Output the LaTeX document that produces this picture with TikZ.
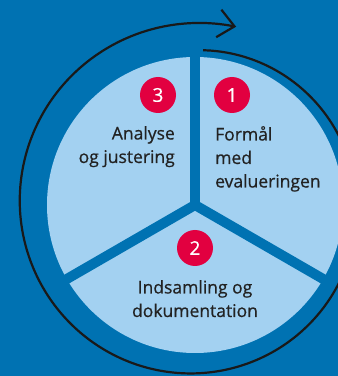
\documentclass[tikz,border=0pt]{standalone}
\usepackage{fontspec}
\setmainfont{Open Sans}
\newfontfamily\stepfont{Open Sans}[FakeBold=0.6]
\usetikzlibrary{arrows.meta,calc}

\definecolor{bgblue}{RGB}{0,114,178}
\definecolor{pieblue}{RGB}{163,209,241}
\definecolor{numred}{RGB}{226,0,64}
\definecolor{inkgrey}{RGB}{34,34,34}

\begin{document}
\begin{tikzpicture}[
    x=1pt, y=1pt,
    sector/.style={fill=pieblue},
    divider/.style={draw=bgblue, line width=10pt},
    numdot/.style={circle, fill=numred, text=white, minimum size=36pt, inner sep=0pt, font=\stepfont\fontsize{19}{19}\selectfont},
    steptext/.style={text=inkgrey, inner sep=0pt, font=\stepfont\fontsize{17.5}{23.5}\selectfont},
    cyclearrow/.style={draw=black!90, line width=2.2pt, -{Straight Barb[length=16pt,width=28pt]}}
]

% Background
\fill[bgblue] (0,0) rectangle (338,376);
\useasboundingbox (0,0) rectangle (338,376);
\clip (0,0) rectangle (338,376);

\coordinate (c) at (195,171);

% Pie with three sectors
\fill[sector] (c) circle (148pt);
\draw[divider] (c) -- ++(90:152pt);
\draw[divider] (c) -- ++(-30:152pt);
\draw[divider] (c) -- ++(210:152pt);

% Cycle arrow
\draw[cyclearrow, shift={(c)}] plot[smooth, domain=0:370, samples=120] ({87-\x}:{155+28*\x/370});

% Numbers
\node[numdot] (n3) at ($(c)+(-37,110)$) {3};
\node[numdot] (n1) at ($(c)+(37,110)$) {1};
\node[numdot] (n2) at ($(c)+(0,-43)$) {2};

% Step texts
\node[steptext, anchor=north east, align=right] (t3) at ($(c)+(-20,79)$) {Analyse\\og justering};
\node[steptext, anchor=north west, align=left] (t1) at ($(c)+(20,79)$) {Formål\\med\\evalueringen};
\node[steptext, anchor=north, align=center] (t2) at ($(c)+(0,-75)$) {Indsamling og\\dokumentation};

\end{tikzpicture}
\end{document}
